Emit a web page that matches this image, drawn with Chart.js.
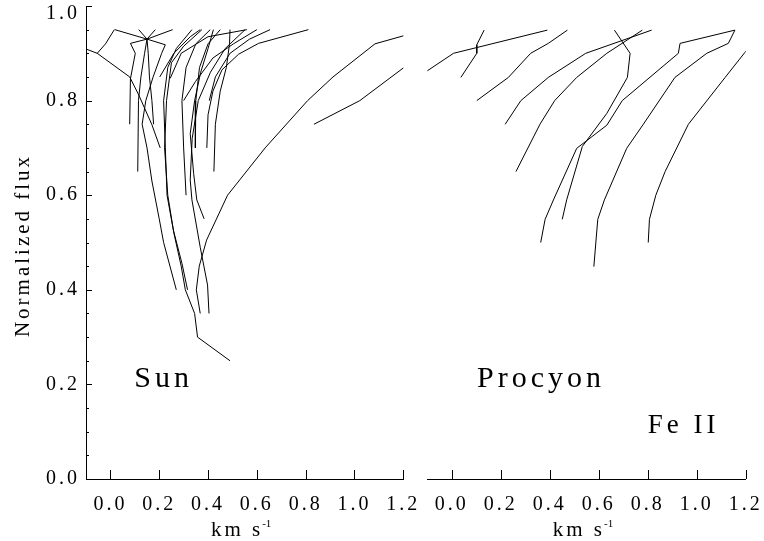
<!DOCTYPE html>
<html>
<head>
<meta charset="utf-8">
<script src="https://cdn.jsdelivr.net/npm/chart.js@4.4.1/dist/chart.umd.min.js"></script>
<style>
  html, body { margin: 0; padding: 0; background: #fff; }
  #wrap { position: relative; width: 764px; height: 541px; overflow: hidden; }
  canvas { position: absolute; top: 0; }
  #sun { left: 0; }
  #procyon { left: 420px; }
</style>
</head>
<body>
<div id="wrap">
  <canvas id="sun" width="420" height="541"></canvas>
  <canvas id="procyon" width="344" height="541"></canvas>
</div>
<script>
// axis ranges and ticks
const xRange = [-0.1, 1.2];
const yRange = [0.0, 1.0];
const xTicks = [0.0, 0.2, 0.4, 0.6, 0.8, 1.0, 1.2];
const yTicks = [0.0, 0.05, 0.1, 0.15, 0.2, 0.25, 0.3, 0.35, 0.4, 0.45, 0.5,
                0.55, 0.6, 0.65, 0.7, 0.75, 0.8, 0.85, 0.9, 0.95, 1.0];
const yLabelTicks = [0.0, 0.2, 0.4, 0.6, 0.8, 1.0];

// bisectors, each a list of [velocity km/s, normalized flux]
const sunLines = [
  [[-0.13, 0.915], [-0.054, 0.90], [0.079, 0.85], [0.116, 0.812], [0.17, 0.749], [0.204, 0.70]],
  [[0.016, 0.95], [-0.02, 0.92], [-0.054, 0.90]],
  [[0.255, 0.95], [0.15, 0.93], [0.082, 0.921], [0.102, 0.90], [0.082, 0.846], [0.079, 0.75]],
  [[0.116, 0.95], [0.15, 0.93], [0.14, 0.90], [0.125, 0.85], [0.115, 0.80], [0.112, 0.65]],
  [[0.184, 0.95], [0.15, 0.93], [0.155, 0.90], [0.16, 0.85], [0.17, 0.80], [0.177, 0.75]],
  [[0.018, 0.95], [0.15, 0.93], [0.225, 0.918], [0.21, 0.90], [0.175, 0.85], [0.145, 0.80],
   [0.13, 0.75], [0.15, 0.70], [0.17, 0.63], [0.20, 0.55], [0.218, 0.50], [0.27, 0.40]],
  [[0.334, 0.95], [0.27, 0.91], [0.235, 0.87], [0.218, 0.80], [0.225, 0.70], [0.232, 0.60],
   [0.258, 0.526], [0.293, 0.456], [0.316, 0.40]],
  [[0.375, 0.95], [0.30, 0.915], [0.25, 0.88], [0.23, 0.80], [0.222, 0.70], [0.235, 0.60],
   [0.26, 0.52], [0.29, 0.45], [0.307, 0.40], [0.345, 0.35], [0.357, 0.30], [0.49, 0.25]],
  [[0.409, 0.95], [0.35, 0.92], [0.31, 0.87], [0.293, 0.80], [0.30, 0.70], [0.31, 0.60]],
  [[0.45, 0.95], [0.40, 0.92], [0.365, 0.87], [0.35, 0.80], [0.348, 0.70]],
  [[0.422, 0.95], [0.40, 0.91], [0.37, 0.86], [0.345, 0.80], [0.327, 0.73], [0.341, 0.646],
   [0.354, 0.59], [0.384, 0.55]],
  [[0.552, 0.95], [0.47, 0.91], [0.41, 0.86], [0.36, 0.80], [0.335, 0.72], [0.327, 0.632],
   [0.334, 0.59], [0.368, 0.49], [0.398, 0.41], [0.404, 0.35]],
  [[1.29, 0.95], [1.084, 0.92], [0.912, 0.85], [0.808, 0.80], [0.634, 0.70], [0.48, 0.60],
   [0.394, 0.505], [0.364, 0.45], [0.352, 0.40], [0.368, 0.35]],
  [[0.811, 0.95], [0.607, 0.921], [0.525, 0.898], [0.457, 0.865], [0.42, 0.82], [0.40, 0.77], [0.395, 0.70]],
  [[0.49, 0.95], [0.488, 0.92], [0.475, 0.87], [0.45, 0.82], [0.43, 0.75], [0.424, 0.65]],
  [[0.654, 0.95], [0.57, 0.93], [0.49, 0.90], [0.43, 0.85], [0.405, 0.80]],
  [[0.202, 0.85], [0.26, 0.90], [0.327, 0.935], [0.368, 0.95]],
  [[0.245, 0.847], [0.29, 0.90], [0.40, 0.935], [0.559, 0.95]],
  [[0.30, 0.80], [0.348, 0.84], [0.42, 0.89], [0.504, 0.92], [0.60, 0.95]],
  [[1.28, 0.90], [1.022, 0.80], [0.834, 0.75]]
];

const procyonLines = [
  [[-0.15, 0.845], [-0.1, 0.863], [0.007, 0.90], [0.39, 0.949]],
  [[0.132, 0.949], [0.102, 0.918], [0.102, 0.90], [0.037, 0.849]],
  [[0.472, 0.949], [0.394, 0.921], [0.322, 0.90], [0.231, 0.849], [0.102, 0.80]],
  [[0.816, 0.949], [0.547, 0.90], [0.394, 0.849], [0.282, 0.80], [0.218, 0.75]],
  [[0.778, 0.949], [0.633, 0.90], [0.51, 0.849], [0.42, 0.80], [0.36, 0.75], [0.262, 0.65]],
  [[0.664, 0.949], [0.728, 0.90], [0.717, 0.849], [0.633, 0.773], [0.533, 0.703], [0.469, 0.59], [0.451, 0.549]],
  [[1.156, 0.949], [1.129, 0.921], [1.041, 0.90], [0.911, 0.849], [0.782, 0.75], [0.714, 0.699],
   [0.623, 0.59], [0.596, 0.549], [0.58, 0.449]],
  [[1.156, 0.949], [0.932, 0.921], [0.925, 0.90], [0.696, 0.80], [0.633, 0.748], [0.51, 0.699],
   [0.415, 0.59], [0.381, 0.549], [0.363, 0.50]],
  [[1.27, 0.949], [1.197, 0.902], [1.116, 0.849], [0.966, 0.75], [0.871, 0.65], [0.833, 0.60],
   [0.807, 0.549], [0.802, 0.50]]
];

const FONT = "'Liberation Serif', 'DejaVu Serif', serif";

// text placed in data coordinates
const sunNotes = [{ text: 'Sun', x: 0.098, y: 0.195, size: 30 }];
const procyonNotes = [
  { text: 'Procyon', x: 0.103, y: 0.195, size: 30 },
  { text: 'Fe II', x: 0.80, y: 0.097, size: 27 }
];

const isLabelTick = v => yLabelTicks.some(t => Math.abs(t - v) < 1e-6);

// IDL style: ticks point inwards, titles and notes drawn by hand
const idlAxes = {
  id: 'idl',
  beforeDraw(chart) {
    chart.ctx.letterSpacing = '3px';
  },
  afterDraw(chart, args, opts) {
    const ctx = chart.ctx;
    const xs = chart.scales.x, ys = chart.scales.y;
    const area = chart.chartArea;
    ctx.save();
    ctx.strokeStyle = '#000';
    ctx.lineWidth = 1;
    ctx.beginPath();
    xTicks.forEach(v => {
      const px = Math.round(xs.getPixelForValue(v)) + 0.5;
      ctx.moveTo(px, area.bottom);
      ctx.lineTo(px, area.bottom - 9);
    });
    if (opts.yAxis) {
      yTicks.forEach(v => {
        const py = Math.round(ys.getPixelForValue(v)) + 0.5;
        ctx.moveTo(area.left, py);
        ctx.lineTo(area.left + (isLabelTick(v) ? 6 : 3), py);
      });
    }
    ctx.stroke();

    ctx.fillStyle = '#000';
    ctx.letterSpacing = '3px';

    // y tick labels, the top one nudged down to stay on the page
    if (opts.yAxis) {
      ctx.font = '20px ' + FONT;
      ctx.textAlign = 'right';
      ctx.textBaseline = 'middle';
      yLabelTicks.forEach(v => {
        const py = Math.max(ys.getPixelForValue(v), 13.5);
        ctx.fillText(v.toFixed(1), area.left - 6, py);
      });
    }

    // x title: km s^-1
    ctx.textBaseline = 'alphabetic';
    ctx.font = '21px ' + FONT;
    const main = 'km s';
    const wMain = ctx.measureText(main).width;
    ctx.font = '11px ' + FONT;
    const wSup = ctx.measureText('-1').width;
    const cx = (area.left + area.right) / 2;
    const x0 = cx - (wMain + wSup) / 2;
    ctx.textAlign = 'left';
    ctx.font = '21px ' + FONT;
    ctx.fillText(main, x0, 535.5);
    ctx.font = '11px ' + FONT;
    ctx.letterSpacing = '0px';
    ctx.fillText('-1', x0 + wMain - 1, 527);

    if (opts.yAxis) {
      ctx.save();
      ctx.letterSpacing = '3px';
      ctx.font = '21px ' + FONT;
      ctx.translate(29, (area.top + area.bottom) / 2 + 3);
      ctx.rotate(-Math.PI / 2);
      ctx.textAlign = 'center';
      ctx.fillText('Normalized flux', 0, 0);
      ctx.restore();
    }

    ctx.letterSpacing = '4px';
    ctx.textAlign = 'left';
    (opts.notes || []).forEach(n => {
      ctx.font = n.size + 'px ' + FONT;
      ctx.fillText(n.text, xs.getPixelForValue(n.x), ys.getPixelForValue(n.y));
    });
    ctx.restore();
  }
};

function makeChart(id, lines, showY, padLeft, padRight, notes) {
  return new Chart(document.getElementById(id), {
    type: 'line',
    data: {
      datasets: lines.map(l => ({
        data: l.map(p => ({ x: p[0], y: p[1] })),
        borderColor: '#000',
        borderWidth: 1,
        pointRadius: 0,
        tension: 0,
        fill: false
      }))
    },
    options: {
      responsive: false,
      animation: false,
      events: [],
      layout: { padding: { left: padLeft, right: padRight, top: 6, bottom: 0 } },
      plugins: {
        legend: { display: false },
        tooltip: { enabled: false },
        idl: { yAxis: showY, notes: notes }
      },
      scales: {
        x: {
          type: 'linear',
          min: xRange[0],
          max: xRange[1],
          afterBuildTicks: s => { s.ticks = xTicks.map(v => ({ value: v })); },
          afterFit: s => { s.height = 62; s.paddingLeft = 0; s.paddingRight = 0; },
          grid: { display: false, drawTicks: false },
          border: { display: true, color: '#000', width: 1 },
          ticks: {
            font: { family: FONT, size: 20 },
            color: '#000',
            padding: 14,
            maxRotation: 0,
            autoSkip: false,
            callback: v => v.toFixed(1)
          }
        },
        y: {
          type: 'linear',
          display: showY,
          min: yRange[0],
          max: yRange[1],
          afterBuildTicks: s => { s.ticks = yTicks.map(v => ({ value: v })); },
          afterFit: s => {
            s.width = showY ? 86 : 0;
            s.paddingTop = 0;
            s.paddingBottom = 0;
          },
          grid: { display: false, drawTicks: false },
          border: { display: true, color: '#000', width: 1 },
          ticks: { display: false, autoSkip: false }
        }
      }
    },
    plugins: [idlAxes]
  });
}

makeChart('sun', sunLines, true, 0, 16.7, sunNotes);
makeChart('procyon', procyonLines, false, 7.3, 18.3, procyonNotes);
</script>
</body>
</html>
